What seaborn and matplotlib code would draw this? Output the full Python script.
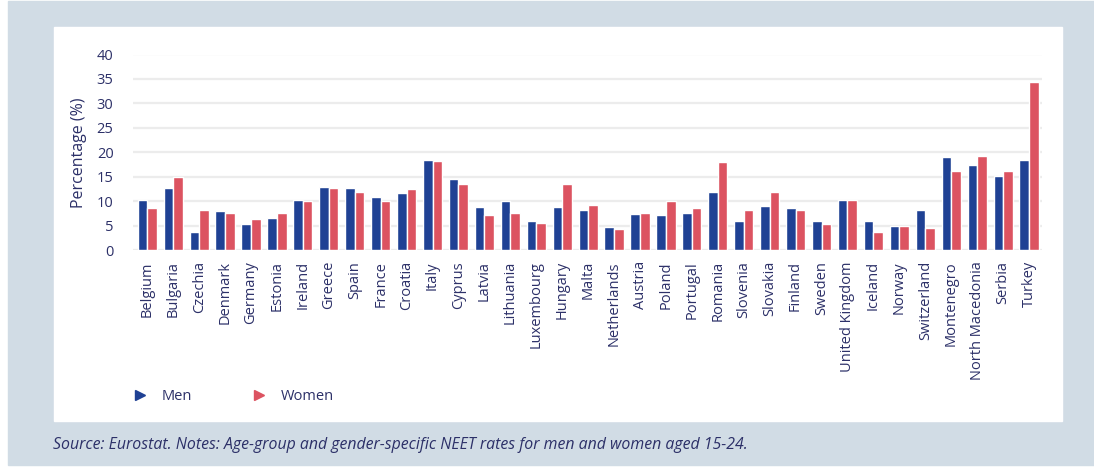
"""NEET rates for men and women aged 15-24 by country."""
import matplotlib.pyplot as plt
import pandas as pd
import seaborn as sns
from matplotlib.lines import Line2D
from matplotlib.patches import Rectangle

countries = [
    "Belgium", "Bulgaria", "Czechia", "Denmark", "Germany", "Estonia", "Ireland",
    "Greece", "Spain", "France", "Croatia", "Italy", "Cyprus", "Latvia",
    "Lithuania", "Luxembourg", "Hungary", "Malta", "Netherlands", "Austria",
    "Poland", "Portugal", "Romania", "Slovenia", "Slovakia", "Finland", "Sweden",
    "United Kingdom", "Iceland", "Norway", "Switzerland", "Montenegro",
    "North Macedonia", "Serbia", "Turkey",
]
men = [
    10.3, 12.7, 3.6, 8.0, 5.3, 6.6, 10.3, 12.9, 12.6, 10.9, 11.6, 18.4, 14.5,
    8.9, 10.0, 5.9, 8.9, 8.2, 4.7, 7.4, 7.2, 7.6, 11.8, 6.0, 9.0, 8.6, 5.9,
    10.3, 6.0, 5.0, 8.1, 19.0, 17.4, 15.2, 18.4,
]
women = [
    8.6, 14.9, 8.2, 7.5, 6.4, 7.5, 10.1, 12.6, 11.8, 10.1, 12.5, 18.2, 13.6,
    7.2, 7.6, 5.5, 13.6, 9.3, 4.2, 7.6, 10.0, 8.6, 18.0, 8.2, 11.8, 8.1, 5.3,
    10.3, 3.6, 5.0, 4.6, 16.1, 19.2, 16.1, 34.3,
]
yticks = [0, 5, 10, 15, 20, 25, 30, 35, 40]

blue = "#1f4194"
red = "#dc5361"
navy = "#2c3068"

df = pd.DataFrame(
    {
        "country": countries * 2,
        "value": men + women,
        "sex": ["Men"] * len(men) + ["Women"] * len(women),
    }
)

sns.set_style("white")
plt.rcParams["font.family"] = ["Open Sans", "DejaVu Sans"]

fig = plt.figure(figsize=(10.94, 4.67), dpi=100, facecolor="white")
W, H = 1094, 467
fig.patches.append(Rectangle((8 / W, 1 - 465 / H), (W - 8) / W, 464 / H,
                             transform=fig.transFigure, color="#d1dce5", zorder=-2))
fig.patches.append(Rectangle((54 / W, 1 - 421 / H), (1062 - 54) / W, (421 - 27) / H,
                             transform=fig.transFigure, color="white", zorder=-1))

ax = fig.add_axes([133 / W, 1 - 250 / H, (1042 - 133) / W, (250 - 54.5) / H])
ax.set_zorder(2)
ax.set_facecolor("white")
sns.barplot(data=df, x="country", y="value", hue="sex", palette=[blue, red],
            width=0.74, saturation=1, legend=False, ax=ax, zorder=3)

ax.set_ylim(0, 40)
ax.set_xlim(-0.55, len(countries) - 0.5)
ax.set_yticks(yticks)
ax.yaxis.grid(True, color="#ececec", linewidth=1.6, zorder=0)
ax.set_axisbelow(True)
sns.despine(ax=ax, left=True, bottom=True)
ax.tick_params(axis="both", length=0, labelcolor=navy, labelsize=10.5)
ax.tick_params(axis="y", pad=14)
ax.tick_params(axis="x", pad=8)
plt.setp(ax.get_xticklabels(), rotation=90)
ax.set_xlabel("")
ax.set_ylabel("Percentage (%)", color=navy, fontsize=11.5, labelpad=7)

handles = [
    Line2D([], [], marker=">", color=blue, linestyle="None", markersize=7),
    Line2D([], [], marker=">", color=red, linestyle="None", markersize=7),
]
fig.legend(handles, ["Men", "Women"], loc="center left",
           bbox_to_anchor=(118 / W, 1 - 397 / H), ncol=2, frameon=False,
           fontsize=10.5, labelcolor=navy, columnspacing=4.0, handletextpad=0.9,
           handlelength=1.2)

fig.text(53 / W, 1 - 445 / H,
         "Source: Eurostat. Notes: Age-group and gender-specific NEET rates "
         "for men and women aged 15-24.",
         fontsize=11.4, style="italic", color=navy, va="center")

fig.savefig("out.png", dpi=100, facecolor=fig.get_facecolor())
